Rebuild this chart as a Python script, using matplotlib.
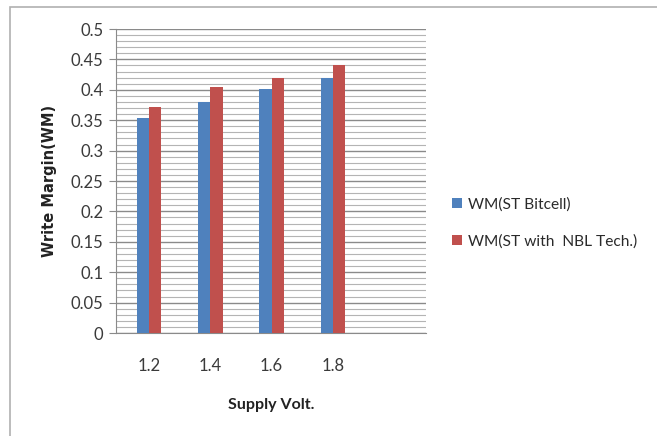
import matplotlib
matplotlib.use("Agg")
import matplotlib.pyplot as plt
import numpy as np
from matplotlib.patches import Rectangle
from matplotlib.ticker import MultipleLocator, FuncFormatter

categories = ["1.2", "1.4", "1.6", "1.8"]
wm_st_bitcell = [0.353, 0.380, 0.401, 0.420]
wm_st_nbl = [0.372, 0.405, 0.420, 0.440]
series_names = ["WM(ST Bitcell)", "WM(ST with  NBL Tech.)"]

plt.rcParams["font.family"] = ["Lato", "DejaVu Sans"]

fig = plt.figure(figsize=(6.57, 4.36), dpi=100)
fig.patch.set_facecolor("white")

# outer chart frame (runs off the right and bottom edges)
fig.patches.append(Rectangle((10 / 657, -0.05), 1.2, 1 - 7 / 436 + 0.05,
                             transform=fig.transFigure, fill=False,
                             edgecolor="#b0b0b0", linewidth=1.2, zorder=0))

ax = fig.add_axes([116 / 657, 1 - 333 / 436, 310 / 657, 304 / 436])

x = np.arange(len(categories))
w = 0.2
ax.bar(x - w / 2, wm_st_bitcell, w, color="#4F81BD", label=series_names[0], zorder=3)
ax.bar(x + w / 2, wm_st_nbl, w, color="#C0504D", label=series_names[1], zorder=3)

ax.set_xlim(-0.54, 4.52)
ax.set_ylim(0, 0.5)
ax.set_yticks(np.linspace(0, 0.5, 11))
ax.yaxis.set_minor_locator(MultipleLocator(0.01))
ax.yaxis.set_major_formatter(FuncFormatter(lambda v, p: f"{round(v, 2):g}"))
ax.set_xticks(x)
ax.set_xticklabels(categories)

ax.grid(which="major", axis="y", color="#8a8a8a", linewidth=1.0, zorder=1)
ax.grid(which="minor", axis="y", color="#b4b4b4", linewidth=0.8, zorder=1)

for side in ["top", "right"]:
    ax.spines[side].set_visible(False)
ax.spines["left"].set_color("#8a8a8a")
ax.spines["bottom"].set_color("#8a8a8a")

ax.tick_params(axis="y", which="major", length=5, color="#8a8a8a",
               labelsize=12, labelcolor="#3a3a3a", pad=4)
ax.tick_params(axis="y", which="minor", length=0)
ax.tick_params(axis="x", length=0, labelsize=12, labelcolor="#3a3a3a", pad=18)

ax.set_xlabel("Supply Volt.", fontsize=11.5, fontweight="bold", labelpad=17,
              color="#222222")
ax.set_ylabel("Write Margin(WM)", fontsize=10.5, fontweight="bold", labelpad=10,
              color="#222222", family="DejaVu Sans")

fig.legend(loc="center left", bbox_to_anchor=(452 / 657, 1 - 223 / 436),
           frameon=False, fontsize=11.2, handlelength=0.65, handleheight=0.65,
           handletextpad=0.4, labelspacing=1.45, borderpad=0, borderaxespad=0,
           labelcolor="#2a2a2a")

fig.savefig("out.png", dpi=100)
